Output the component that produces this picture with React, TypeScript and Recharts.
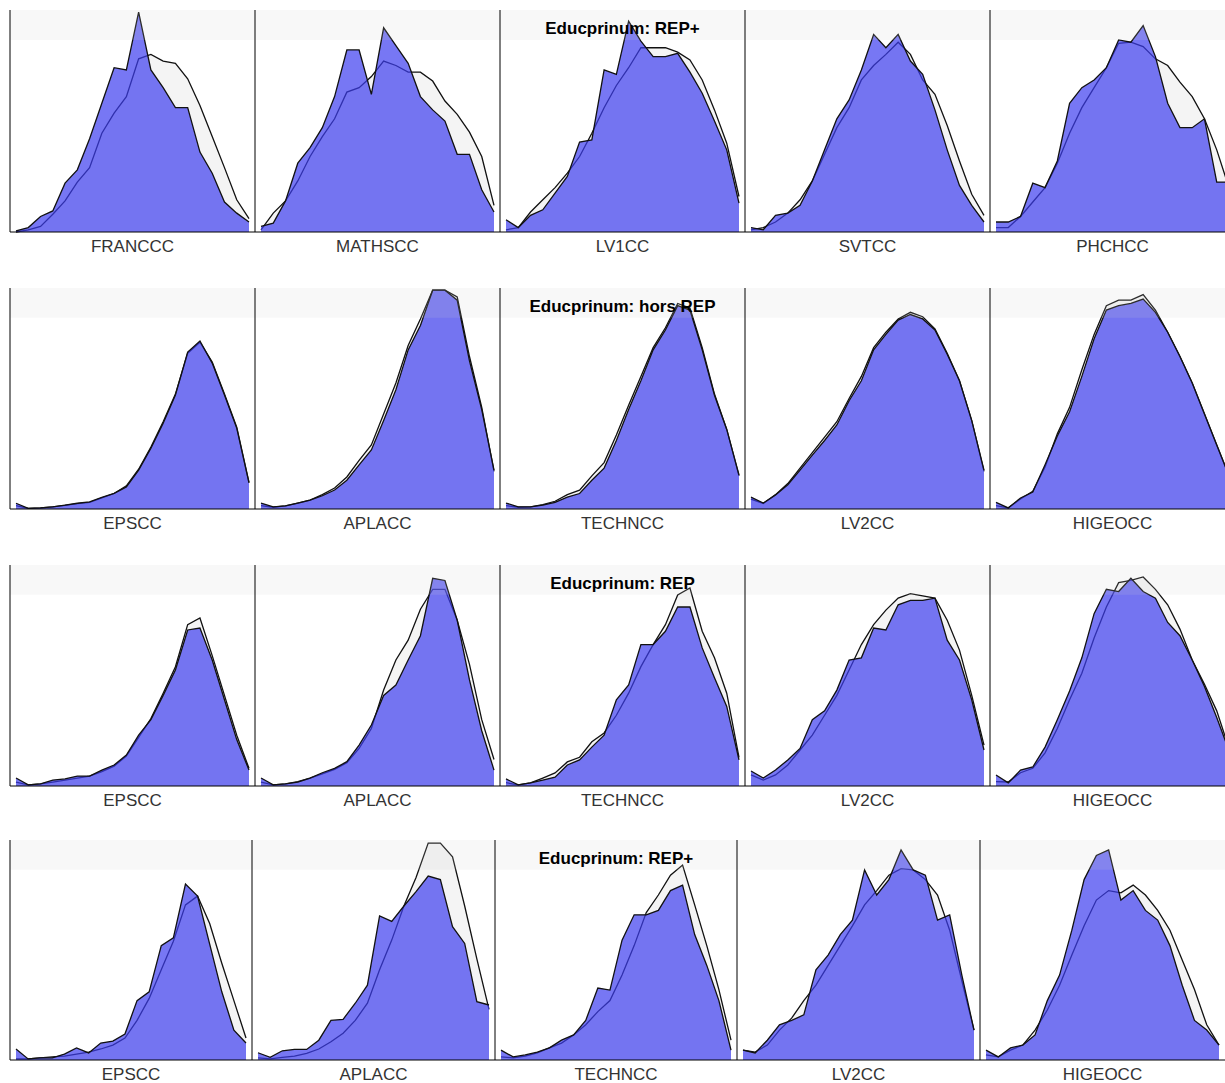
import React from "react";
import { AreaChart, Area, XAxis, YAxis, ReferenceArea } from "recharts";

// grade index (20 classes per subject)
const GRADES = [0, 1, 2, 3, 4, 5, 6, 7, 8, 9, 10, 11, 12, 13, 14, 15, 16, 17, 18, 19];

const TOP_SUBJECTS = ["FRANCCC", "MATHSCC", "LV1CC", "SVTCC", "PHCHCC"];
const OTHER_SUBJECTS = ["EPSCC", "APLACC", "TECHNCC", "LV2CC", "HIGEOCC"];
const ROW_TITLES = ["Educprinum: REP+", "Educprinum: hors REP", "Educprinum: REP", "Educprinum: REP+"];

// row 1 (REP+)
const r1FrancBlue = [0.5, 2, 7, 9.5, 22, 28, 42, 58, 74, 73, 99, 73, 65, 56, 56, 36, 26.5, 13.5, 8.5, 4.5];
const r1FrancGray = [0, 1, 2.5, 8, 14, 22.5, 29, 44.5, 53.5, 61, 78, 80, 77, 76, 69, 57, 43, 29, 14.5, 6];
const r1MathBlue = [2.5, 4, 14, 31, 38, 47, 61, 82, 82, 62, 92, 84, 76, 61, 55, 50, 35, 35, 19, 9];
const r1MathGray = [1, 8.5, 14, 23, 34, 43, 51, 63, 65, 70, 77, 75, 72, 72, 68, 59, 53, 45, 34, 12];
const r1Lv1Blue = [5.5, 2, 7.5, 10, 17.5, 25, 40.5, 41.5, 73, 71, 95, 86, 79, 79, 80.5, 72, 62.5, 50, 37, 13];
const r1Lv1Gray = [1, 2, 9, 14.5, 20, 26.5, 34, 44.5, 56, 66, 74, 83, 83, 83, 81, 77.5, 68.5, 55, 40, 16];
const r1SvtBlue = [2, 1, 7.5, 8.5, 12, 23, 37, 51, 59.5, 73, 89, 83, 89, 77, 71, 55, 37, 21, 12, 4.5];
const r1SvtGray = [1, 2, 4.5, 8.5, 14.5, 23, 35, 47, 56, 68.5, 75, 80, 85.5, 80, 68.5, 62, 48, 32, 17, 7.5];
const r1PhchBlue = [4.5, 4.5, 7, 22, 20, 32, 58, 65, 68.5, 74, 86.5, 85.5, 93, 79, 58, 47, 47, 51, 22.5, 22.5];
const r1PhchGray = [2, 2, 7, 13.5, 20, 31, 44.5, 56, 65, 74, 85, 85.5, 83.5, 78, 75, 67.5, 61, 51, 37, 20];

// row 2 (hors REP)
const r2EpsBlue = [2.6, 0.3, 0.5, 1, 1.8, 2.6, 3.2, 5.3, 7.1, 10, 17.6, 27.5, 38.8, 51.6, 71, 76, 66, 51.6, 36.6, 11.8];
const r2EpsGray = [1.5, 0.3, 0.5, 1, 1.6, 2.4, 3, 5, 7, 10.5, 18, 28, 39.5, 52, 70.5, 75.5, 66.5, 52, 37, 12];
const r2AplaBlue = [2.7, 1, 1.4, 2.7, 4, 6, 8.6, 13, 20, 26.7, 40, 54, 72, 83, 99, 99, 94.5, 67, 45, 17.6];
const r2AplaGray = [1.5, 0.8, 1.4, 2.7, 4, 6.5, 9.5, 14.5, 22, 29, 43, 57, 74, 86, 99, 99, 96, 69, 46, 17];
const r2TechBlue = [2.7, 1, 1, 1.8, 3, 5.4, 7, 13, 18.5, 31, 45, 58, 72, 81, 92, 90, 72, 51.5, 36, 15.4];
const r2TechGray = [1.5, 0.8, 1, 2, 3.5, 6.5, 8.5, 15, 21, 33.5, 47, 60, 73, 82, 93, 91, 73, 52, 36, 15];
const r2Lv2Blue = [5.4, 2.7, 6.3, 11, 17.6, 24.4, 31, 38, 49, 58, 72, 79, 85.5, 88, 86, 81, 70, 58, 40, 17.6];
const r2Lv2Gray = [4.5, 2.5, 6.5, 11.5, 18.5, 25.5, 32.5, 39.5, 50, 60, 73, 80, 86, 89, 87, 81.5, 70.5, 58, 40, 17];
const r2HigeoBlue = [3, 0.5, 5, 7.7, 20, 33, 44, 60, 77, 90, 92, 93, 95, 89, 80, 69, 57, 43, 29, 15];
const r2HigeoGray = [1.5, 0.5, 4.5, 8, 19, 34, 46, 63, 79, 92, 94.5, 94.5, 97, 90, 80, 69, 57, 43, 29, 15];

// row 3 (REP)
const r3EpsBlue = [3.6, 0.5, 1, 2.7, 3.2, 4.5, 4.5, 7.2, 9.5, 14, 23, 30, 41, 52.5, 70.6, 71.5, 57, 39, 21, 7.2];
const r3EpsGray = [1.8, 0.5, 1, 1.8, 2.7, 3.6, 4.5, 6.5, 9, 13.5, 22, 30.5, 42, 54, 73, 76, 59, 41, 23, 8];
const r3AplaBlue = [3.6, 0.5, 1, 1.8, 3.6, 6, 8, 11, 18.5, 27.6, 41, 45.7, 57, 68, 94, 93, 75, 48, 25, 7.2];
const r3AplaGray = [1.8, 0.5, 1, 2, 3.6, 5.5, 7.5, 10.5, 17, 26, 43.4, 57, 66, 80, 89, 89, 75, 55, 30, 12];
const r3TechBlue = [3.2, 0.5, 1.4, 2.7, 4, 9.5, 11.8, 17.6, 23, 39, 45.7, 64, 64, 70, 81, 81, 62.5, 49, 36, 11.8];
const r3TechGray = [1.5, 0.5, 1.4, 3.6, 5.9, 10.9, 13, 20, 24, 32, 42, 54, 64, 73, 86.4, 89.6, 70, 58, 42, 13];
const r3Lv2Blue = [6.8, 3.6, 7.2, 11.8, 17, 30, 34, 43.4, 57, 58, 71.5, 70.6, 82, 84, 84, 85, 66, 57, 39, 16.3];
const r3Lv2Gray = [5, 2.7, 5, 9.5, 16.3, 23, 32, 41, 52.5, 64, 73, 79.6, 85, 87, 86, 85, 75, 61.5, 41, 18.5];
const r3HigeoBlue = [5, 1.4, 7.2, 8.6, 17.6, 30, 43, 58, 78, 89, 88, 94, 88, 85, 74, 68, 57, 45, 31, 16];
const r3HigeoGray = [2, 1.8, 6, 8, 15, 26, 39, 51, 67, 81, 92, 93, 94.6, 89, 82, 71, 57, 46, 34, 17];

// row 4 (REP+)
const r4EpsBlue = [5, 0.5, 1, 1, 2.7, 5.5, 3.2, 7.7, 8.6, 11.8, 27, 31, 52, 55.5, 80, 74.5, 52.7, 31, 13.6, 7.7];
const r4EpsGray = [0.5, 0.5, 1, 1.4, 1.8, 2.7, 3.6, 5, 6.8, 10, 18, 28, 41, 54, 70.5, 74.5, 62, 44, 27, 10];
const r4AplaBlue = [3.3, 1.2, 4.2, 4.8, 4.8, 9, 18, 18.5, 25.8, 34, 65.5, 63, 70, 76.5, 83.6, 82, 60.6, 53, 26.5, 25];
const r4AplaGray = [1, 0.5, 1.2, 1.8, 3, 5, 8.3, 12.2, 18, 25.8, 41, 54.5, 70, 83, 98.6, 98.6, 92.4, 70, 46, 23];
const r4TechBlue = [4.5, 1.4, 2.3, 3.6, 5.5, 9, 11.4, 18, 32.7, 31.8, 54.5, 66, 66, 68, 77, 79.5, 57, 43, 27, 4.5];
const r4TechGray = [1.4, 1, 1.8, 3.2, 5.5, 7.7, 11.4, 16, 22, 27, 38.6, 52, 67, 75, 84, 88.6, 70.5, 52, 32, 9];
const r4Lv2Blue = [4.5, 3.2, 9, 16, 18, 20.5, 41, 47.7, 57, 63.6, 86.4, 75, 82, 95.5, 86.4, 84, 63.6, 66, 38.6, 13.6];
const r4Lv2Gray = [4.5, 3.6, 6.8, 13.6, 19, 27, 34, 43, 52, 61, 70.5, 77, 84, 87, 86.4, 82, 75, 59, 36, 13.6];
const r4HigeoBlue = [4.5, 1.4, 5.5, 6.8, 11.4, 27, 38.6, 59, 82, 93, 95.5, 72.7, 77, 68, 63.6, 52, 34, 18, 13.6, 6.8];
const r4HigeoGray = [2.3, 1.4, 4.5, 6.8, 13.6, 22.7, 34, 47.7, 61, 72.7, 77, 76, 79.5, 75, 68, 59, 45.5, 32, 16, 6.8];

const ROWS = [
  { title: ROW_TITLES[0], names: TOP_SUBJECTS, blue: [r1FrancBlue, r1MathBlue, r1Lv1Blue, r1SvtBlue, r1PhchBlue], gray: [r1FrancGray, r1MathGray, r1Lv1Gray, r1SvtGray, r1PhchGray] },
  { title: ROW_TITLES[1], names: OTHER_SUBJECTS, blue: [r2EpsBlue, r2AplaBlue, r2TechBlue, r2Lv2Blue, r2HigeoBlue], gray: [r2EpsGray, r2AplaGray, r2TechGray, r2Lv2Gray, r2HigeoGray] },
  { title: ROW_TITLES[2], names: OTHER_SUBJECTS, blue: [r3EpsBlue, r3AplaBlue, r3TechBlue, r3Lv2Blue, r3HigeoBlue], gray: [r3EpsGray, r3AplaGray, r3TechGray, r3Lv2Gray, r3HigeoGray] },
  { title: ROW_TITLES[3], names: OTHER_SUBJECTS, blue: [r4EpsBlue, r4AplaBlue, r4TechBlue, r4Lv2Blue, r4HigeoBlue], gray: [r4EpsGray, r4AplaGray, r4TechGray, r4Lv2Gray, r4HigeoGray] },
];

// layout
const ROW_TOP = [10, 288, 565, 840];
const ROW_PLOT_H = [222, 221, 221, 220];
const COL_LEFT = [
  [10, 255, 500, 745, 990],
  [10, 255, 500, 745, 990],
  [10, 255, 500, 745, 990],
  [10, 252, 495, 737, 980],
];
const AXIS_H = 24;

function Panel({ name, blue, gray, left, width, top, plotH, title }: any) {
  const data = GRADES.map((g, k) => ({ g, blue: blue[k], gray: gray[k] }));
  return (
    <div style={{ position: "absolute", left: left - 1, top }}>
      <AreaChart
        width={width + 1}
        height={plotH + AXIS_H}
        data={data}
        margin={{ top: 0, right: 0, bottom: 0, left: 0 }}
      >
        <XAxis
          dataKey="g"
          type="number"
          domain={[0, 19]}
          padding={{ left: 6, right: 6 }}
          tick={false}
          tickLine={false}
          axisLine={{ stroke: "#000" }}
          height={AXIS_H}
          label={{ value: name, position: "insideBottom", offset: 4, fill: "#333", fontSize: 17 }}
        />
        <YAxis
          domain={[0, 100]}
          width={1}
          tick={false}
          tickLine={false}
          axisLine={{ stroke: "#000" }}
        />
        <Area
          dataKey="gray"
          type="linear"
          stroke="#111"
          strokeWidth={1.3}
          fill="#f4f4f4"
          fillOpacity={1}
          dot={false}
          activeDot={false}
          isAnimationActive={false}
        />
        <Area
          dataKey="blue"
          type="linear"
          stroke="#111"
          strokeWidth={1.3}
          fill="#3d3df0"
          fillOpacity={0.7}
          dot={false}
          activeDot={false}
          isAnimationActive={false}
        />
        <ReferenceArea
          x1={-1}
          x2={20}
          y1={86.5}
          y2={100}
          ifOverflow="hidden"
          fill="#d2d2d2"
          fillOpacity={0.15}
          stroke="none"
          label={
            title
              ? { value: title, position: "insideTop", offset: 12, fill: "#000", fontSize: 17, fontWeight: "bold" }
              : undefined
          }
        />
      </AreaChart>
    </div>
  );
}

export default function App() {
  return (
    <div
      style={{
        position: "absolute",
        left: 0,
        top: 0,
        width: 1225,
        height: 1083,
        overflow: "hidden",
        background: "#fff",
        fontFamily: "'Liberation Sans', Arial, sans-serif",
      }}
    >
      {ROWS.map((row, r) =>
        row.names.map((name, c) => {
          const lefts = COL_LEFT[r];
          const width = c < 4 ? lefts[c + 1] - lefts[c] : 245;
          return (
            <Panel
              key={`${r}-${c}`}
              name={name}
              blue={row.blue[c]}
              gray={row.gray[c]}
              left={lefts[c]}
              width={width}
              top={ROW_TOP[r]}
              plotH={ROW_PLOT_H[r]}
              title={c === 2 ? row.title : undefined}
            />
          );
        })
      )}
    </div>
  );
}
